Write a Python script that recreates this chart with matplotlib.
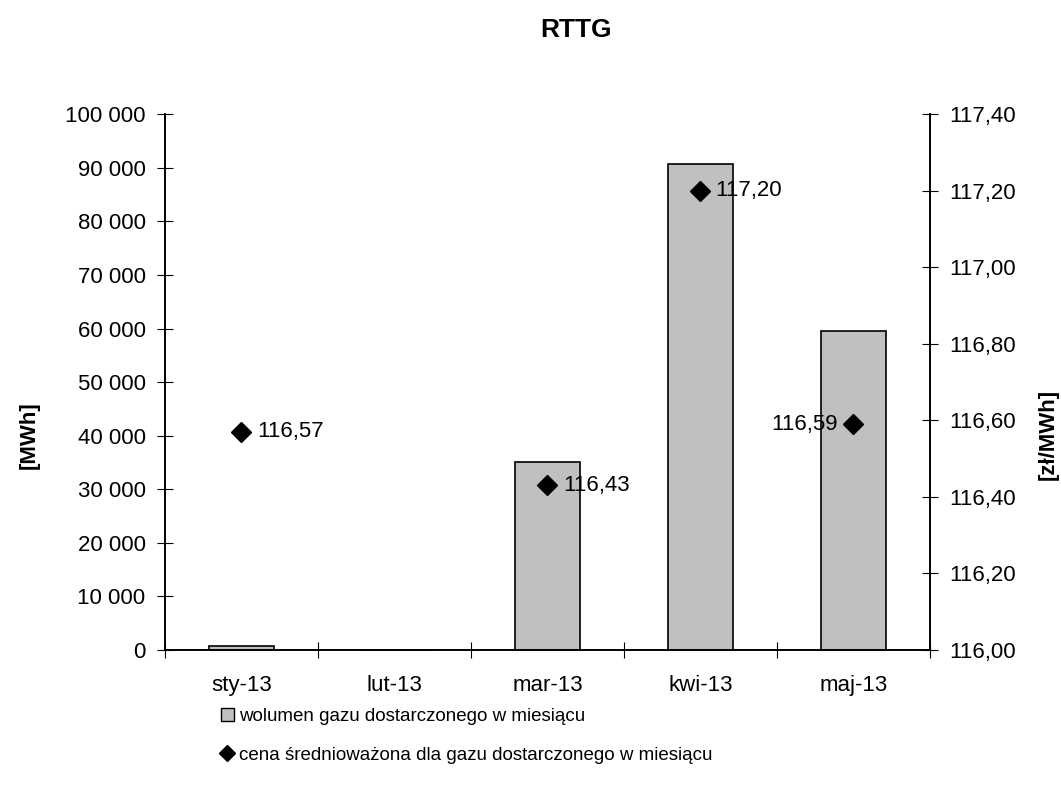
import numpy as np
import matplotlib.pyplot as plt
from matplotlib.lines import Line2D
from matplotlib.patches import Patch

plt.rcParams['font.family'] = ['Liberation Sans', 'DejaVu Sans']

# data
months = ['sty-13', 'lut-13', 'mar-13', 'kwi-13', 'maj-13']
volume = [800, 0, 35000, 90700, 59600]
price = [116.57, np.nan, 116.43, 117.20, 116.59]
price_labels = ['116,57', '', '116,43', '117,20', '116,59']

FS = 16

fig = plt.figure(figsize=(10.61, 7.99), dpi=100)
ax = fig.add_axes([0.1555, 0.1865, 0.7210, 0.6705])
ax2 = ax.twinx()

x = np.arange(len(months))
ax.bar(x, volume, width=0.42, color='#C0C0C0', edgecolor='black', linewidth=1.2)
ax.set_xlim(-0.5, len(months) - 0.5)
ax.set_ylim(0, 100000)
ax.set_yticks(np.arange(0, 100001, 10000))
ax.set_yticklabels([f'{v:,}'.replace(',', ' ') for v in range(0, 100001, 10000)])

# category ticks at the borders, labels in the middle
ax.set_xticks(np.arange(-0.5, len(months)), minor=False)
ax.set_xticklabels([''] * (len(months) + 1))
ax.set_xticks(x, minor=True)
ax.set_xticklabels(months, minor=True)
ax.tick_params(axis='x', which='minor', length=0, pad=18, labelsize=FS)
ax.tick_params(axis='x', which='major', direction='inout', length=12)
ax.tick_params(axis='y', direction='inout', length=12, labelsize=FS, pad=8)

ax2.plot(x, price, linestyle='none', marker='D', color='black', markersize=10)
ax2.set_ylim(116.0, 117.4)
ax2.set_yticks(np.arange(116.0, 117.41, 0.2))
ax2.set_yticklabels([f'{v:.2f}'.replace('.', ',') for v in np.arange(116.0, 117.41, 0.2)])
ax2.tick_params(axis='y', direction='inout', length=12, labelsize=FS, pad=8)

for i, (p, lab) in enumerate(zip(price, price_labels)):
    if not lab:
        continue
    if i == len(months) - 1:
        ax2.annotate(lab, (i, p), xytext=(-11, 0), textcoords='offset points',
                     ha='right', va='center', fontsize=FS)
    else:
        ax2.annotate(lab, (i, p), xytext=(11, 0), textcoords='offset points',
                     ha='left', va='center', fontsize=FS)

for a in (ax, ax2):
    a.spines['top'].set_visible(False)
    for s in ('left', 'right', 'bottom'):
        a.spines[s].set_linewidth(1.2)

fig.text(0.543, 0.962, 'RTTG', ha='center', va='center', fontsize=19, fontweight='bold')
fig.text(0.028, 0.456, '[MWh]', rotation=90, ha='center', va='center',
         fontsize=FS, fontweight='bold')
fig.text(0.988, 0.456, '[zł/MWh]', rotation=90, ha='center', va='center',
         fontsize=FS, fontweight='bold')

handles = [Patch(facecolor='#C0C0C0', edgecolor='black', linewidth=1),
           Line2D([], [], linestyle='none', marker='D', color='black', markersize=8)]
fig.legend(handles, ['wolumen gazu dostarczonego w miesiącu',
                     'cena średnioważona dla gazu dostarczonego w miesiącu'],
           loc='upper left', bbox_to_anchor=(0.208, 0.114), frameon=False,
           fontsize=13.5, handlelength=0.7, handletextpad=0.3, labelspacing=1.15,
           borderaxespad=0, borderpad=0)

fig.savefig('out.png', dpi=100)
